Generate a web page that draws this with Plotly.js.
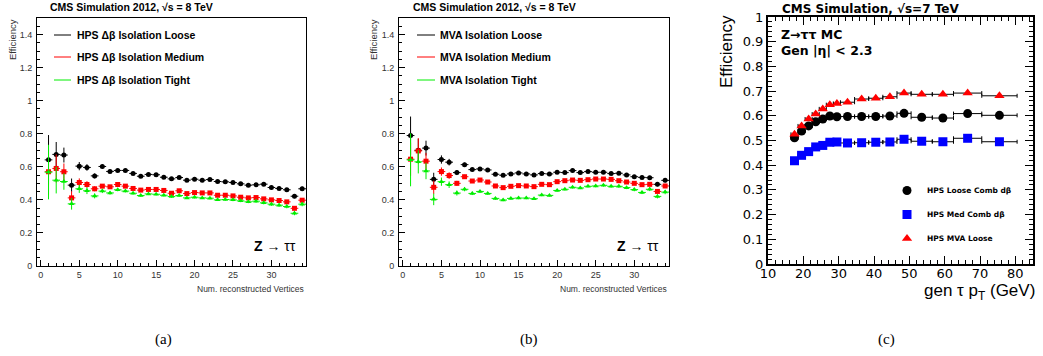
<!DOCTYPE html>
<html>
<head>
<meta charset="utf-8">
<script src="https://cdn.plot.ly/plotly-3.0.1.min.js"></script>
<style>html,body{margin:0;padding:0;background:#fff;}#chart{width:1043px;height:356px;}</style>
</head>
<body>
<div id="chart"></div>
<script>
// ---------- Panel (a): HPS delta-beta isolation vs number of vertices ----------
const nVtx = [1,2,3,4,5,6,7,8,9,10,11,12,13,14,15,16,17,18,19,20,21,22,23,24,25,26,27,28,29,30,31,32,33,34];
const binHalf = 0.5;

const aLoose  = [0.642,0.675,0.671,0.489,0.604,0.596,0.545,0.602,0.572,0.578,0.578,0.560,0.543,0.554,0.552,0.537,0.527,0.535,0.519,0.525,0.519,0.523,0.511,0.509,0.505,0.497,0.489,0.491,0.495,0.475,0.469,0.461,0.422,0.467];
const aMedium = [0.570,0.590,0.570,0.412,0.505,0.493,0.467,0.483,0.479,0.493,0.483,0.469,0.459,0.463,0.463,0.457,0.440,0.455,0.438,0.444,0.442,0.442,0.428,0.428,0.424,0.416,0.412,0.414,0.406,0.400,0.396,0.388,0.349,0.398];
const aTight  = [0.568,0.519,0.511,0.376,0.467,0.455,0.424,0.453,0.442,0.461,0.453,0.440,0.426,0.436,0.434,0.428,0.420,0.426,0.412,0.416,0.412,0.410,0.400,0.402,0.400,0.394,0.388,0.392,0.382,0.374,0.368,0.360,0.319,0.374];
const aErrLoose  = [0.150,0.075,0.045,0.040,0.025,0.020,0.015,0.012,0.010,0.009,0.008,0.008,0.007,0.007,0.007,0.007,0.007,0.007,0.007,0.007,0.007,0.007,0.007,0.007,0.008,0.008,0.008,0.009,0.009,0.010,0.010,0.011,0.012,0.013];
const aErrMedium = [0.140,0.085,0.050,0.040,0.025,0.020,0.015,0.012,0.010,0.009,0.008,0.008,0.007,0.007,0.007,0.007,0.007,0.007,0.007,0.007,0.007,0.007,0.007,0.007,0.008,0.008,0.008,0.009,0.009,0.010,0.010,0.011,0.012,0.013];
const aErrTight  = [0.165,0.080,0.050,0.035,0.025,0.020,0.015,0.012,0.010,0.009,0.008,0.008,0.007,0.007,0.007,0.007,0.007,0.007,0.007,0.007,0.007,0.007,0.007,0.007,0.008,0.008,0.008,0.009,0.009,0.010,0.010,0.011,0.012,0.013];
const aNames = ["HPS \u0394\u03B2 Isolation Loose","HPS \u0394\u03B2 Isolation Medium","HPS \u0394\u03B2 Isolation Tight"];

// ---------- Panel (b): MVA isolation vs number of vertices ----------
const bLoose  = [0.789,0.700,0.713,0.524,0.644,0.628,0.565,0.613,0.583,0.587,0.581,0.555,0.549,0.557,0.563,0.557,0.551,0.559,0.557,0.567,0.565,0.577,0.565,0.571,0.567,0.567,0.559,0.561,0.551,0.540,0.536,0.534,0.494,0.518];
const bMedium = [0.646,0.696,0.634,0.476,0.571,0.547,0.500,0.540,0.514,0.520,0.508,0.484,0.474,0.482,0.486,0.484,0.480,0.494,0.492,0.510,0.516,0.520,0.518,0.522,0.526,0.526,0.524,0.516,0.508,0.500,0.492,0.494,0.451,0.484];
const bTight  = [0.642,0.630,0.575,0.403,0.510,0.492,0.441,0.464,0.439,0.451,0.439,0.409,0.399,0.409,0.411,0.411,0.407,0.429,0.427,0.457,0.464,0.476,0.472,0.482,0.484,0.488,0.482,0.482,0.474,0.462,0.445,0.464,0.421,0.447];
const bErrLoose  = [0.115,0.070,0.045,0.040,0.025,0.020,0.015,0.012,0.010,0.009,0.008,0.008,0.007,0.007,0.007,0.007,0.007,0.007,0.007,0.007,0.007,0.007,0.007,0.007,0.008,0.008,0.008,0.009,0.009,0.010,0.010,0.011,0.012,0.013];
const bErrMedium = [0.100,0.077,0.050,0.040,0.025,0.020,0.015,0.012,0.010,0.009,0.008,0.008,0.007,0.007,0.007,0.007,0.007,0.007,0.007,0.007,0.007,0.007,0.007,0.007,0.008,0.008,0.008,0.009,0.009,0.010,0.010,0.011,0.012,0.013];
const bErrTight  = [0.160,0.070,0.050,0.035,0.025,0.020,0.015,0.012,0.010,0.009,0.008,0.008,0.007,0.007,0.007,0.007,0.007,0.007,0.007,0.007,0.007,0.007,0.007,0.007,0.008,0.008,0.008,0.009,0.009,0.010,0.010,0.011,0.012,0.013];
const bNames = ["MVA Isolation Loose","MVA Isolation Medium","MVA Isolation Tight"];

// ---------- Panel (c): efficiency vs generated tau pT ----------
const ptCenters = [17.5,19.5,21.5,23.5,25.5,27.5,29.5,32.5,36.5,40.5,44.5,48.5,53.5,59.5,66.5,75.5];
const ptHalfWidths = [1,1,1,1,1,1,1,2,2,2,2,2,3,3,4,5];
const cLooseComb = [0.511,0.538,0.559,0.576,0.587,0.599,0.596,0.597,0.597,0.597,0.599,0.610,0.594,0.591,0.609,0.602];
const cMedComb   = [0.418,0.440,0.455,0.474,0.480,0.493,0.494,0.490,0.491,0.493,0.494,0.505,0.497,0.495,0.509,0.495];
const cMVALoose  = [0.525,0.559,0.587,0.607,0.628,0.645,0.650,0.655,0.668,0.671,0.677,0.692,0.687,0.687,0.692,0.681];
const cErr = [0.004,0.004,0.004,0.003,0.003,0.003,0.003,0.003,0.003,0.003,0.003,0.003,0.003,0.003,0.003,0.003];
const cNames = ["HPS Loose Comb d\u03B2","HPS Med Comb d\u03B2","HPS MVA Loose"];

const colBlack = "#000000", colRed = "#ff0000", colGreen = "#00ee00", colBlue = "#0000ff";

function vtxTrace(y, err, color, symbol, size, xa, ya) {
  return {
    x: nVtx, y: y, type: "scatter", mode: "markers", xaxis: xa, yaxis: ya, showlegend: false,
    marker: {color: color, symbol: symbol, size: size},
    error_y: {type: "data", array: err, color: color, thickness: 1, width: 0},
    error_x: {type: "constant", value: binHalf, color: color, thickness: 1, width: 0}
  };
}
function ptTrace(y, color, symbol, name) {
  return {
    x: ptCenters, y: y, type: "scatter", mode: "markers", xaxis: "x3", yaxis: "y3", name: name,
    legendgroup: name, showlegend: true,
    marker: {color: color, symbol: symbol, size: 9},
    error_y: {type: "data", array: cErr, color: colBlack, thickness: 1, width: 0},
    error_x: {type: "data", array: ptHalfWidths, color: colBlack, thickness: 1, width: 2}
  };
}

const data = [
  vtxTrace(aLoose, aErrLoose, colBlack, "circle", 5, "x", "y"),
  vtxTrace(aMedium, aErrMedium, colRed, "square", 5, "x", "y"),
  vtxTrace(aTight, aErrTight, colGreen, "triangle-up", 5, "x", "y"),
  vtxTrace(bLoose, bErrLoose, colBlack, "circle", 5, "x2", "y2"),
  vtxTrace(bMedium, bErrMedium, colRed, "square", 5, "x2", "y2"),
  vtxTrace(bTight, bErrTight, colGreen, "triangle-up", 5, "x2", "y2"),
  ptTrace(cLooseComb, colBlack, "circle", cNames[0]),
  ptTrace(cMedComb, colBlue, "square", cNames[1]),
  ptTrace(cMVALoose, colRed, "triangle-up", cNames[2])
];

const W = 1043, H = 356;
const px = v => v / W;
const py = v => 1 - v / H;
const sans = "Liberation Sans, Arial, Helvetica, sans-serif";
const wide = "DejaVu Sans, Liberation Sans, sans-serif";

function vtxX(domain) {
  return {domain: domain, range: [-0.5, 34.5], showgrid: false, zeroline: false,
    showline: true, linecolor: "#000", linewidth: 1, mirror: true,
    ticks: "inside", ticklen: 6, tickcolor: "#000", tick0: 0, dtick: 5,
    minor: {ticks: "inside", ticklen: 3, dtick: 1, tickcolor: "#000", showgrid: false},
    tickfont: {family: sans, size: 9, color: "#333"}};
}
function vtxY(domain, anchor) {
  return {domain: domain, range: [0, 1.5], anchor: anchor, showgrid: false, zeroline: false,
    showline: true, linecolor: "#000", linewidth: 1, mirror: true,
    ticks: "inside", ticklen: 6, tickcolor: "#000", tick0: 0, dtick: 0.2,
    minor: {ticks: "inside", ticklen: 3, dtick: 0.05, tickcolor: "#000", showgrid: false},
    tickfont: {family: sans, size: 9, color: "#333"}, ticklabelstandoff: 2};
}

const yDomAB = [py(266), py(18)];
const layout = {
  width: W, height: H, margin: {l: 0, r: 0, t: 0, b: 0},
  paper_bgcolor: "#fff", plot_bgcolor: "#fff", showlegend: true,
  xaxis: Object.assign(vtxX([px(37), px(306)]), {anchor: "y"}),
  yaxis: vtxY(yDomAB, "x"),
  xaxis2: Object.assign(vtxX([px(399), px(669)]), {anchor: "y2"}),
  yaxis2: vtxY(yDomAB, "x2"),
  xaxis3: {domain: [px(768), px(1033)], anchor: "y3", range: [10, 85], showgrid: false, zeroline: false,
    showline: true, linecolor: "#000", linewidth: 2, mirror: "allticks",
    ticks: "inside", ticklen: 8, tickcolor: "#000", tick0: 10, dtick: 10,
    minor: {ticks: "inside", ticklen: 4, dtick: 2, tickcolor: "#000", showgrid: false},
    tickfont: {family: wide, size: 13, color: "#000"}, ticklabelstandoff: -4},
  yaxis3: {domain: [py(264), py(17)], anchor: "x3", range: [0, 1], showgrid: false, zeroline: false,
    showline: true, linecolor: "#000", linewidth: 2, mirror: "allticks",
    ticks: "inside", ticklen: 8, tickcolor: "#000", tick0: 0, dtick: 0.1,
    minor: {ticks: "inside", ticklen: 4, dtick: 0.02, tickcolor: "#000", showgrid: false},
    tickfont: {family: wide, size: 13, color: "#000"}, ticklabelstandoff: 0},
  legend: {x: px(887), y: py(176), xanchor: "left", yanchor: "top", bgcolor: "rgba(0,0,0,0)",
    font: {family: wide, size: 7.5, color: "#000", weight: "bold"}, tracegroupgap: 5, itemsizing: "trace"},
  shapes: [],
  annotations: []
};

const ann = layout.annotations;
function txt(x, y, text, size, opts) {
  ann.push(Object.assign({xref: "paper", yref: "paper", x: px(x), y: py(y), text: text, showarrow: false,
    xanchor: "center", yanchor: "middle", font: {family: sans, size: size, color: "#000"}}, opts || {}));
}
// titles
txt(131, 7, "<b>CMS Simulation 2012, \u221As = 8 TeV</b>", 10.5);
txt(494, 7, "<b>CMS Simulation 2012, \u221As = 8 TeV</b>", 10.5);
txt(870, 9, "<b>CMS Simulation, \u221As=7 TeV</b>", 12, {font: {family: wide, size: 12, color: "#000"}});
// y titles
txt(12, 40, "Efficiency", 9.5, {textangle: -90, font: {family: sans, size: 9.5, color: "#333"}});
txt(373, 40, "Efficiency", 9.5, {textangle: -90, font: {family: sans, size: 9.5, color: "#333"}});
txt(726, 52, "Efficiency", 17, {textangle: -90, font: {family: sans, size: 17, color: "#000"}});
// x titles
txt(306, 289, "Num. reconstructed Vertices", 8.5, {xanchor: "right", font: {family: sans, size: 8.5, color: "#333"}});
txt(669, 289, "Num. reconstructed Vertices", 8.5, {xanchor: "right", font: {family: sans, size: 8.5, color: "#333"}});
txt(1037, 292, "gen \u03C4 p<sub>T</sub> (GeV)", 17, {xanchor: "right", font: {family: sans, size: 17, color: "#000"}});
// process labels
txt(252, 246, "<b>Z</b> \u2192 \u03C4\u03C4", 14, {xanchor: "left"});
txt(615, 246, "<b>Z</b> \u2192 \u03C4\u03C4", 14, {xanchor: "left"});
txt(779, 34, "<b>Z\u2192\u03C4\u03C4 MC</b>", 12.5, {xanchor: "left", font: {family: wide, size: 12.5, color: "#000"}});
txt(779, 50, "<b>Gen |\u03B7| < 2.3</b>", 12.5, {xanchor: "left", font: {family: wide, size: 12.5, color: "#000"}});
// panel letters
txt(163, 339, "(a)", 15, {font: {family: "Liberation Serif, Times New Roman, serif", size: 15, color: "#000"}});
txt(529, 339, "(b)", 15, {font: {family: "Liberation Serif, Times New Roman, serif", size: 15, color: "#000"}});
txt(886, 339, "(c)", 15, {font: {family: "Liberation Serif, Times New Roman, serif", size: 15, color: "#000"}});

// legends for panels (a) and (b): line sample + bold label
const legCols = [colBlack, colRed, colGreen];
const legY = [35, 57, 80];
function vtxLegend(x0, x1, xt, names) {
  names.forEach((n, i) => {
    layout.shapes.push({type: "line", xref: "paper", yref: "paper", x0: px(x0), x1: px(x1), y0: py(legY[i]), y1: py(legY[i]),
      line: {color: legCols[i], width: 1}});
    txt(xt, legY[i], "<b>" + n + "</b>", 10.5, {xanchor: "left"});
  });
}
vtxLegend(54, 71, 75, aNames);
vtxLegend(417, 435, 438, bNames);

Plotly.newPlot("chart", data, layout, {displayModeBar: false, staticPlot: true});
</script>
</body>
</html>
